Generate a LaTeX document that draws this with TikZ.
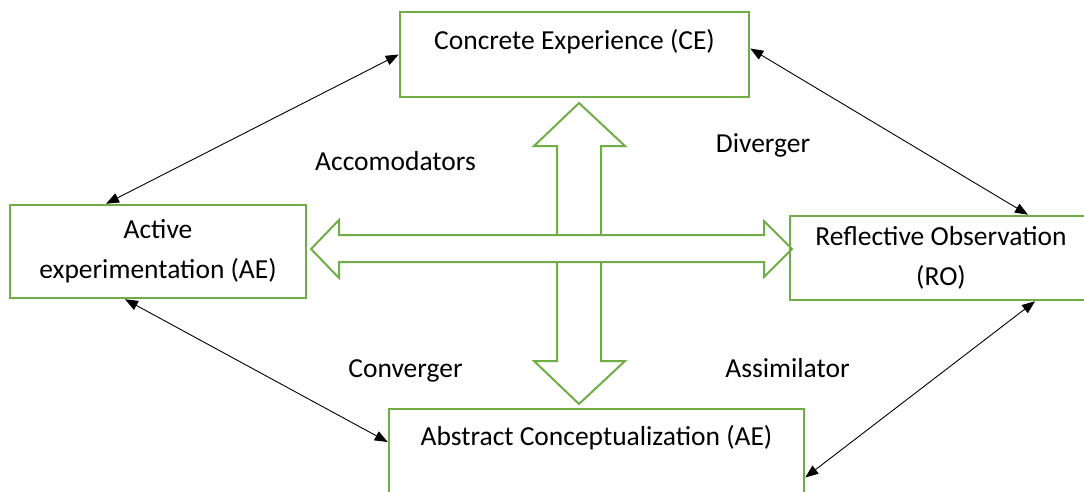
\documentclass[tikz,border=0pt]{standalone}
\usepackage{fontspec}
\setmainfont{Carlito}
\usetikzlibrary{arrows.meta}
\definecolor{boxgreen}{HTML}{70AD47}
\begin{document}
\begin{tikzpicture}[x=1pt,y=-1pt,
  box/.style={draw=boxgreen,line width=2.5pt,inner sep=0pt},
  txt/.style={font=\fontsize{27.5}{40}\selectfont},
  blockarrow/.style={draw=boxgreen,line width=2pt,fill=white,line join=miter},
  link/.style={draw=black,line width=0.9pt,{Triangle[length=13pt,width=10pt]}-{Triangle[length=13pt,width=10pt]}},
  lbl/.style={txt,anchor=base,inner sep=0pt}]
\useasboundingbox (0,0) rectangle (1084,491);
% block arrows
\draw[blockarrow] (579,103) -- (625,146) -- (601,146) -- (601,361) -- (625,361) -- (579,404) -- (534,361) -- (557,361) -- (557,146) -- (534,146) -- cycle;
\draw[blockarrow] (311,249) -- (339,220) -- (339,235) -- (764,235) -- (764,221) -- (792,249) -- (764,277) -- (764,262) -- (339,262) -- (339,278) -- cycle;
% boxes
\node[box,txt,minimum width=349pt,text height=37pt,text depth=48pt] (ce) at (574.5,54.5) {Concrete Experience (CE)};
\node[box,txt,align=center,minimum width=296pt,minimum height=93pt] (ae) at (158,251.5) {Active\\experimentation (AE)};
\node[box,txt,align=center,minimum width=302pt,minimum height=84pt] (ro) at (941,258) {Reflective Observation\\(RO)};
\node[box,txt,minimum width=415pt,text height=36pt,text depth=55pt] (bot) at (596.5,454.5) {Abstract Conceptualization (AE)};
% labels
\node[lbl] (acc) at (395.5,170) {Accomodators};
\node[lbl] (div) at (763,152) {Diverger};
\node[lbl] (con) at (405.5,377) {Converger};
\node[lbl] (ass) at (787.5,377) {Assimilator};
% links
\draw[link] ([xshift=-52pt]ae.north) -- (ce.west);
\draw[link] ([yshift=6pt]ce.east) -- ([xshift=87pt]ro.north);
\draw[link] ([xshift=-33pt]ae.south) -- ([yshift=12.5pt]bot.west);
\draw[link] ([xshift=94pt]ro.south) -- ([yshift=-23pt]bot.east);
\end{tikzpicture}
\end{document}
